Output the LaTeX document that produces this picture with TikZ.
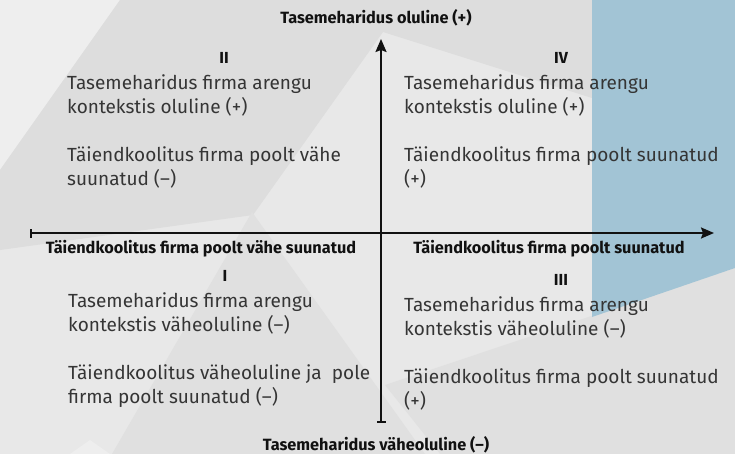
\documentclass[tikz,border=0pt]{standalone}
\usepackage{fontspec}
\setmainfont{Fira Sans}
\usepackage{xcolor}
\usepackage{tikz}
\usetikzlibrary{arrows.meta}
\definecolor{bg}{HTML}{E8E8E8}
\definecolor{band}{HTML}{DDDDDD}
\definecolor{dim}{HTML}{E0E0E0}
\definecolor{pale}{HTML}{EEEEEE}
\definecolor{steel}{HTML}{A2C4D5}
\definecolor{ink}{HTML}{353535}
\definecolor{axis}{HTML}{111111}
\tikzset{
  ax/.style={draw=axis, line width=2pt},
  body/.style={text=ink, font=\fontsize{19}{24}\selectfont, align=left, anchor=north west, inner sep=0pt},
  roman/.style={text=axis, font=\fontsize{16}{18}\selectfont\bfseries, inner sep=0pt},
  axlab/.style={text=axis, font=\fontsize{16.3}{18}\selectfont\bfseries, inner sep=0pt}
}

\begin{document}
\begin{tikzpicture}[x=1pt,y=-1pt]
  \useasboundingbox (0,0) rectangle (735,454);

  % background
  \fill[bg] (0,0) rectangle (735,454);
  \fill[pale] (0,0) -- (120,0) -- (0,170) -- cycle;
  \fill[band] (120,0) -- (592,0) -- (592,98) -- (383,32) -- (253,215) -- (0,250) -- (0,170) -- cycle;
  \fill[dim] (252,212) -- (425,454) -- (112,454) -- cycle;
  \fill[dim] (385,385) -- (735,268) -- (735,454) -- (440,454) -- cycle;
  \fill[pale] (90,440) -- (110,454) -- (70,454) -- cycle;
  \fill[steel] (592,0) -- (735,0) -- (735,268) -- (592,317) -- cycle;

  % axes
  \coordinate (L) at (30,233);
  \coordinate (R) at (714,233);
  \coordinate (B) at (381,423);
  \coordinate (T) at (381,39);
  \draw[ax, {Bar[width=9pt]}-{Stealth[length=13pt,width=11pt,inset=2pt]}] (L) -- (R);
  \draw[ax, {Bar[width=9pt]}-{Stealth[length=13pt,width=11pt,inset=2pt]}] (B) -- (T);

  \node[axlab] (top) at (376,18) {Tasemeharidus oluline (+)};
  \node[axlab] (bottom) at (376,445) {Tasemeharidus väheoluline (–)};
  \node[axlab] (left) at (201,249) {Täiendkoolitus firma poolt vähe suunatud};
  \node[axlab] (right) at (549,249) {Täiendkoolitus firma poolt suunatud};

  \node[roman] (qII) at (224,58) {II};
  \node[roman] (qIV) at (561,58) {IV};
  \node[roman] (qI) at (225,276) {I};
  \node[roman] (qIII) at (561,280) {III};

  \node[body] (aII) at (67,74) {Tasemeharidus firma arengu\\kontekstis oluline (+)};
  \node[body] (bII) at (67,146) {Täiendkoolitus firma poolt vähe\\suunatud (–)};
  \node[body] (aIV) at (404,74) {Tasemeharidus firma arengu\\kontekstis oluline (+)};
  \node[body] (bIV) at (404,146) {Täiendkoolitus firma poolt suunatud\\(+)};
  \node[body] (aI) at (68,292) {Tasemeharidus firma arengu\\kontekstis väheoluline (–)};
  \node[body] (bI) at (68,364) {Täiendkoolitus väheoluline ja~ pole\\firma poolt suunatud (–)};
  \node[body] (aIII) at (404,296) {Tasemeharidus firma arengu\\kontekstis väheoluline (–)};
  \node[body] (bIII) at (404,368) {Täiendkoolitus firma poolt suunatud\\(+)};
\end{tikzpicture}
\end{document}
